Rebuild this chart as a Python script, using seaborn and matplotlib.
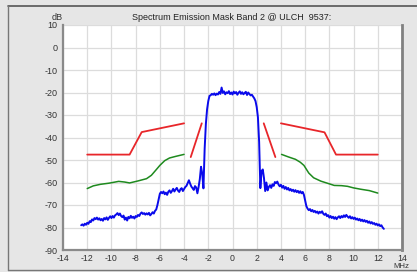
import numpy as np
import pandas as pd
import matplotlib
matplotlib.use("Agg")
import matplotlib.pyplot as plt
import seaborn as sns
from matplotlib.lines import Line2D

# ---- data ----
mask_left_x = [-12.0, -8.5, -7.5, -4.0]
mask_left_db = [-47.6, -47.6, -37.6, -33.7]
mask_inner_left_x = [-3.45, -2.54]
mask_inner_left_db = [-48.7, -33.7]
mask_inner_right_x = [2.58, 3.54]
mask_inner_right_db = [-33.7, -48.7]
mask_right_x = [4.0, 7.6, 8.55, 12.0]
mask_right_db = [-33.7, -37.7, -47.6, -47.6]

green_left_x = [-12.0, -11.5, -10.9, -10.2, -9.4, -8.9, -8.5, -7.8, -7.1, -6.7, -6.3, -6.0, -5.6, -5.2, -4.7, -4.0]
green_left_db = [-62.7, -61.5, -60.8, -60.3, -59.5, -59.8, -60.2, -59.3, -58.3, -56.8, -54.3, -52.4, -50.3, -49.1, -48.4, -47.5]
green_right_x = [4.05, 4.6, 5.2, 5.6, 5.9, 6.3, 6.7, 7.3, 8.0, 8.4, 9.0, 9.5, 10.0, 10.6, 11.3, 12.0]
green_right_db = [-47.5, -48.6, -49.7, -51.0, -52.4, -55.8, -57.9, -59.4, -60.6, -61.3, -61.4, -61.7, -62.4, -63.0, -63.6, -64.7]

blue_db = [
    -79.0, -78.6, -79.2, -78.3, -78.8, -77.9, -78.4, -77.2, -77.6, -76.4,
    -76.9, -75.8, -76.3, -75.6, -76.5, -75.9, -76.8, -76.2, -77.0, -75.8,
    -76.4, -75.5, -76.6, -75.7, -75.0, -75.8, -74.9, -75.6, -74.6, -74.2,
    -73.6, -74.5, -73.8, -74.9, -75.4, -74.7, -76.5, -75.6, -76.9, -75.3,
    -75.9, -74.8, -75.7, -75.2, -76.0, -74.9, -75.3, -74.4, -74.9, -73.8,
    -73.3, -74.0, -73.6, -74.3, -73.7, -74.2, -73.5, -74.6, -74.0, -73.2,
    -73.8, -72.6, -72.0,
    -70.0, -67.5, -65.0, -64.2, -64.8, -64.0, -65.2, -64.5, -65.5, -64.1,
    -63.5, -64.6, -63.8, -62.8, -64.0, -63.1, -62.4, -63.6, -64.2, -63.0,
    -62.5, -63.8, -62.9, -62.0, -61.5, -60.2, -59.0, -60.5, -61.8, -62.5,
    -63.3, -61.6, -62.2, -64.8, -62.0, -58.5, -53.0, -56.0, -62.6, -45.0,
    -34.0, -27.5, -23.8, -21.5, -21.2, -20.6, -21.0, -20.4,
    -21.2, -20.5, -20.9, -19.8, -20.6, -17.8, -20.2, -19.5, -20.8, -19.9,
    -20.3, -19.4, -20.7, -20.0, -20.9, -19.6, -20.4, -19.8, -21.0, -20.1,
    -19.5, -20.6, -19.9, -20.8, -20.2, -19.7, -21.1, -20.0, -20.7, -21.3,
    -21.0, -21.8, -22.6, -23.8, -26.5, -31.0, -42.0, -62.5, -55.0, -54.2,
    -58.0, -63.8, -60.0, -63.5, -62.0, -61.2, -62.4, -60.8, -61.5, -59.8,
    -60.3, -59.6, -60.9, -61.7, -61.0, -62.3, -61.5, -62.8, -62.0, -63.1,
    -62.4, -63.5, -62.9, -63.8, -63.2, -64.1, -63.4, -64.3, -63.7, -64.6,
    -63.9, -64.8, -64.2, -65.5, -68.0, -70.5, -71.6, -72.3, -71.8, -72.8,
    -72.2, -73.1, -72.6, -73.4, -72.9, -73.8, -73.0, -73.5, -72.8, -73.9,
    -74.4, -73.8, -75.0, -74.5, -75.6, -74.9, -75.8, -75.2, -76.1, -75.4,
    -76.3, -75.5, -75.0, -75.8, -74.9, -75.5, -74.6, -75.3, -74.4, -75.1,
    -75.7, -75.0, -76.0, -75.4, -76.2, -75.6, -76.5, -76.0, -76.8, -76.2,
    -77.1, -76.5, -77.3, -76.7, -77.5, -77.0, -77.9, -77.3, -78.2, -77.6,
    -78.4, -78.0, -78.8, -78.3, -79.1, -78.6, -79.4, -79.0, -80.0, -80.6,
]
blue_x = np.linspace(-12.5, 12.5, len(blue_db))

x_ticks = [-14, -12, -10, -8, -6, -4, -2, 0, 2, 4, 6, 8, 10, 12, 14]
y_ticks = [10, 0, -10, -20, -30, -40, -50, -60, -70, -80, -90]
title = "Spectrum Emission Mask Band 2 @ ULCH  9537:"

# ---- figure ----
sns.set_style("white")
plt.rcParams['font.family'] = ['Liberation Sans', 'DejaVu Sans']
W, H = 417, 272
fig = plt.figure(figsize=(W / 100, H / 100), dpi=100)
fig.patch.set_facecolor('#e6e6e6')
ax = fig.add_axes([63 / W, 1 - 250 / H, (402 - 63) / W, (250 - 25) / H])
ax.set_facecolor('white')

red = '#e8262a'
green = '#1e8a1e'
blue = '#0a0aeb'

sns.lineplot(x=blue_x, y=blue_db, ax=ax, color=blue, lw=1.4, sort=False, estimator=None)
for xs, ys in [(mask_left_x, mask_left_db), (mask_inner_left_x, mask_inner_left_db),
               (mask_inner_right_x, mask_inner_right_db), (mask_right_x, mask_right_db)]:
    sns.lineplot(x=xs, y=ys, ax=ax, color=red, lw=1.3, sort=False, estimator=None)
for xs, ys in [(green_left_x, green_left_db), (green_right_x, green_right_db)]:
    sns.lineplot(x=xs, y=ys, ax=ax, color=green, lw=1.1, sort=False, estimator=None)

ax.set_xlim(-14, 14)
ax.set_ylim(-90, 10)
ax.set_xticks(x_ticks)
ax.set_yticks(y_ticks)
ax.set_xticklabels([str(t) for t in x_ticks], fontsize=6.3, color='#333333')
ax.set_yticklabels([str(t) for t in y_ticks], fontsize=6.5, color='#333333')
ax.grid(True, color='#dcdcdc', lw=0.9)
ax.set_axisbelow(True)
ax.tick_params(axis='both', direction='out', length=2.5, width=0.8, color='#777777', pad=1.5)
ax.tick_params(axis='x', pad=0.2)
ax.spines['top'].set_visible(False)
ax.spines['left'].set_color('#8a8a8a')
ax.spines['left'].set_linewidth(1.6)
ax.spines['bottom'].set_color('#8a8a8a')
ax.spines['bottom'].set_linewidth(1.6)
ax.spines['right'].set_color('#808080')
ax.spines['right'].set_linewidth(2.0)
ax.set_xlabel('')
ax.set_ylabel('')

fig.text(232 / W, 1 - 17 / H, title, ha='center', va='center', fontsize=6.5, color='#222222')
fig.text(57 / W, 1 - 17 / H, 'dB', ha='center', va='center', fontsize=6.5, color='#333333')
fig.text(401 / W, 1 - 266 / H, 'MHz', ha='center', va='center', fontsize=5.6, color='#333333')

# outer frame
fx0, fy_top, fy_bot = 8 / W, 1 - 6 / H, 1 - 269.5 / H
fig.add_artist(Line2D([fx0, 1.0], [fy_top, fy_top], transform=fig.transFigure, color='#555555', lw=1.2))
fig.add_artist(Line2D([fx0, fx0], [fy_bot, fy_top], transform=fig.transFigure, color='#777777', lw=1.0))
fig.add_artist(Line2D([fx0, 1.0], [fy_bot, fy_bot], transform=fig.transFigure, color='#777777', lw=1.0))

fig.savefig('out.png', dpi=100, facecolor=fig.get_facecolor())
